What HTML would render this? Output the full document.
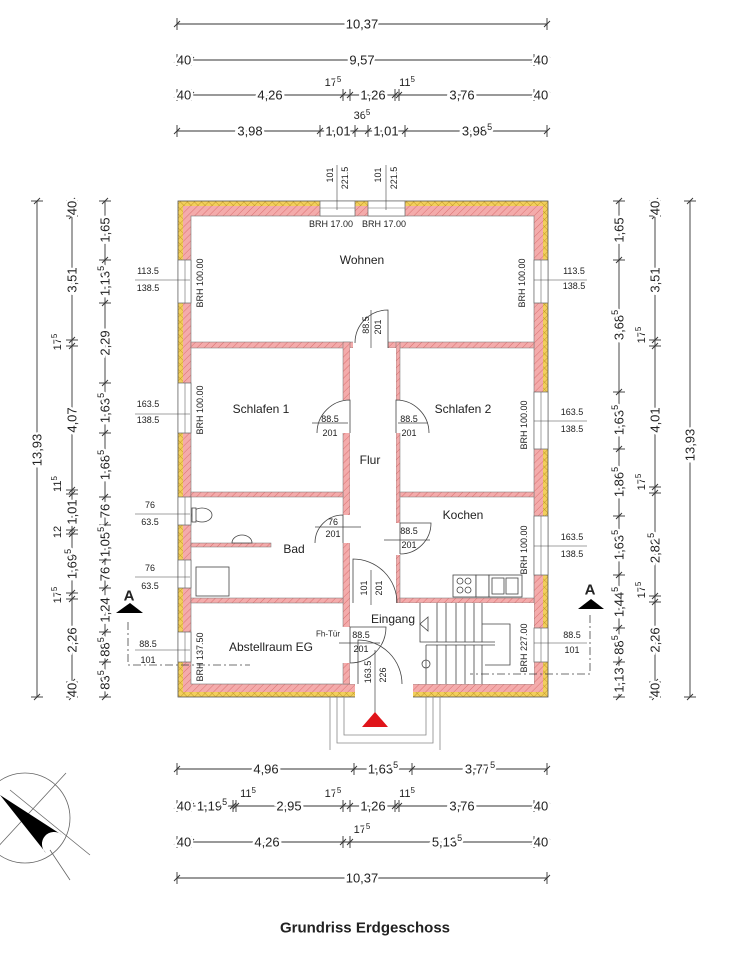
<!DOCTYPE html>
<html><head><meta charset="utf-8"><style>
html,body{margin:0;padding:0;background:#fff}
svg{display:block}
text{font-family:"Liberation Sans",sans-serif;fill:#222}
.d{font-size:13px;text-anchor:middle;dominant-baseline:central;stroke:#fff;stroke-width:5px;paint-order:stroke}
.s{font-size:11px;text-anchor:middle;dominant-baseline:central;stroke:#fff;stroke-width:4px;paint-order:stroke}
.w{font-size:9px;text-anchor:middle;dominant-baseline:central}
.r{font-size:12px;text-anchor:middle;dominant-baseline:central}
.dl line,.dl path{stroke:#333;stroke-width:0.9;fill:none}
</style></head><body>
<svg width="752" height="960" viewBox="0 0 752 960" xmlns="http://www.w3.org/2000/svg">
<defs>
<pattern id="ph" width="5" height="5" patternUnits="userSpaceOnUse" patternTransform="rotate(45)">
<rect width="5" height="5" fill="#f4abab"/><line x1="0" y1="0" x2="0" y2="5" stroke="#d66a6a" stroke-width="0.9"/></pattern>
<pattern id="py" width="5" height="5" patternUnits="userSpaceOnUse" patternTransform="rotate(45)">
<rect width="5" height="5" fill="#f2cf5c"/><line x1="0" y1="0" x2="0" y2="5" stroke="#b88c20" stroke-width="0.8"/><line x1="0" y1="0" x2="5" y2="0" stroke="#b88c20" stroke-width="0.8"/></pattern>
<g id="th" stroke="#333" stroke-width="0.9"><line x1="0" y1="-6" x2="0" y2="6"/><line x1="-3" y1="3" x2="3" y2="-3"/></g>
<g id="tv" stroke="#333" stroke-width="0.9"><line x1="-6" y1="0" x2="6" y2="0"/><line x1="-3" y1="3" x2="3" y2="-3"/></g>
</defs>

<!-- walls -->
<rect x="178" y="201" width="370" height="496" fill="url(#py)" stroke="#555" stroke-width="0.8"/>
<rect x="183" y="206" width="360" height="486" fill="url(#ph)"/>
<rect x="191" y="216" width="343" height="468" fill="#fff" stroke="#777" stroke-width="0.6"/>
<g fill="url(#ph)" stroke="#777" stroke-width="0.5">
<rect x="191" y="342" width="343" height="6"/>
<rect x="343" y="342" width="7" height="342"/>
<rect x="396" y="342" width="4" height="261"/>
<rect x="191" y="492" width="152" height="5"/>
<rect x="400" y="492" width="134" height="5"/>
<rect x="191" y="598" width="152" height="5"/>
<rect x="400" y="598" width="134" height="5"/>
<rect x="191" y="543" width="80" height="4"/>
</g>
<rect x="350" y="348" width="46" height="336" fill="#fff"/>
<rect x="350" y="603" width="184" height="81" fill="#fff"/>
<g fill="#fff">
<rect x="353" y="340" width="35" height="10"/>
<rect x="341" y="400" width="12" height="33"/>
<rect x="394" y="400" width="8" height="33"/>
<rect x="341" y="515" width="12" height="28"/>
<rect x="394" y="523" width="8" height="32"/>
<rect x="350" y="595" width="45" height="10"/>
<rect x="341" y="627" width="12" height="36"/>
<rect x="355" y="684" width="58" height="14"/>
</g>
<!-- windows -->
<g fill="#fff" stroke="#666" stroke-width="0.7">
<rect x="320" y="201" width="35" height="15"/><rect x="368" y="201" width="37" height="15"/>
<rect x="178" y="260" width="13" height="43"/><rect x="178" y="383" width="13" height="50"/>
<rect x="178" y="497" width="13" height="28"/><rect x="178" y="560" width="13" height="28"/>
<rect x="178" y="632" width="13" height="30"/>
<rect x="534" y="260" width="14" height="43"/><rect x="534" y="392" width="14" height="57"/>
<rect x="534" y="516" width="14" height="59"/><rect x="534" y="628" width="14" height="34"/>
</g>
<g stroke="#666" stroke-width="0.6">
<line x1="320" y1="208" x2="355" y2="208"/><line x1="368" y1="208" x2="405" y2="208"/>
<line x1="185" y1="260" x2="185" y2="303"/><line x1="185" y1="383" x2="185" y2="433"/><line x1="185" y1="497" x2="185" y2="525"/><line x1="185" y1="560" x2="185" y2="588"/><line x1="185" y1="632" x2="185" y2="662"/>
<line x1="541" y1="260" x2="541" y2="303"/><line x1="541" y1="392" x2="541" y2="449"/><line x1="541" y1="516" x2="541" y2="575"/><line x1="541" y1="628" x2="541" y2="662"/>
</g>
<!-- door arcs -->
<g fill="none" stroke="#444" stroke-width="0.8">
<path d="M388 348 L388 310 A33 33 0 0 0 355 343"/>
<path d="M350 433 L350 400 A33 33 0 0 0 317 433"/>
<path d="M396 433 L396 400 A33 33 0 0 1 429 433"/>
<path d="M343 543 L343 515 A28 28 0 0 0 315 543"/>
<path d="M400 554 L400 523 L431 523 A31 31 0 0 1 400 554"/>
<path d="M353 603 L353 559 A44 44 0 0 1 397 603"/>
<path d="M350 663 L350 627 L386 627 A36 36 0 0 1 350 663"/>
<path d="M358 684 L358 640 A44 44 0 0 1 402 684"/>
</g>
<g stroke="#444" stroke-width="0.7">
<line x1="371" y1="310" x2="371" y2="348"/>
<line x1="312" y1="423" x2="348" y2="423"/><line x1="398" y1="423" x2="428" y2="423"/>
<line x1="315" y1="527" x2="361" y2="527"/><line x1="384" y1="540" x2="430" y2="540"/>
<line x1="371" y1="570" x2="371" y2="605"/><line x1="339" y1="643" x2="380" y2="643"/>
<line x1="375" y1="650" x2="375" y2="715"/>
</g>
<!-- labels -->
<g>
<line x1="135" y1="280" x2="190" y2="280" stroke="#444" stroke-width="0.6"/><text class="w" x="148" y="271">113.5</text><text class="w" x="148" y="288">138.5</text>
<line x1="135" y1="414" x2="190" y2="414" stroke="#444" stroke-width="0.6"/><text class="w" x="148" y="404">163.5</text><text class="w" x="148" y="420">138.5</text>
<line x1="135" y1="514" x2="190" y2="514" stroke="#444" stroke-width="0.6"/><text class="w" x="150" y="505">76</text><text class="w" x="150" y="522">63.5</text>
<line x1="135" y1="577" x2="190" y2="577" stroke="#444" stroke-width="0.6"/><text class="w" x="150" y="568">76</text><text class="w" x="150" y="586">63.5</text>
<line x1="135" y1="650" x2="190" y2="650" stroke="#444" stroke-width="0.6"/><text class="w" x="148" y="644">88.5</text><text class="w" x="148" y="660">101</text>
<line x1="534" y1="280" x2="587" y2="280" stroke="#444" stroke-width="0.6"/><text class="w" x="574" y="271">113.5</text><text class="w" x="574" y="286">138.5</text>
<line x1="534" y1="421" x2="587" y2="421" stroke="#444" stroke-width="0.6"/><text class="w" x="572" y="412">163.5</text><text class="w" x="572" y="429">138.5</text>
<line x1="534" y1="546" x2="587" y2="546" stroke="#444" stroke-width="0.6"/><text class="w" x="572" y="537">163.5</text><text class="w" x="572" y="554">138.5</text>
<line x1="534" y1="643" x2="587" y2="643" stroke="#444" stroke-width="0.6"/><text class="w" x="572" y="635">88.5</text><text class="w" x="572" y="650">101</text>
<line x1="337" y1="165" x2="337" y2="210" stroke="#444" stroke-width="0.6"/><text class="w" transform="translate(330,175) rotate(-90)">101</text><text class="w" transform="translate(345,178) rotate(-90)">221.5</text>
<line x1="386" y1="165" x2="386" y2="210" stroke="#444" stroke-width="0.6"/><text class="w" transform="translate(378,175) rotate(-90)">101</text><text class="w" transform="translate(394,178) rotate(-90)">221.5</text>
<text class="w" x="331" y="224">BRH 17.00</text><text class="w" x="384" y="224">BRH 17.00</text>
<text class="w" transform="translate(200,283) rotate(-90)">BRH 100.00</text>
<text class="w" transform="translate(522,283) rotate(-90)">BRH 100.00</text>
<text class="w" transform="translate(200,410) rotate(-90)">BRH 100.00</text>
<text class="w" transform="translate(524,425) rotate(-90)">BRH 100.00</text>
<text class="w" transform="translate(524,550) rotate(-90)">BRH 100.00</text>
<text class="w" transform="translate(200,657) rotate(-90)">BRH 137.50</text>
<text class="w" transform="translate(524,648) rotate(-90)">BRH 227.00</text>
<text class="w" transform="translate(366,325) rotate(-90)">88.5</text><text class="w" transform="translate(378,327) rotate(-90)">201</text>
<text class="w" x="330" y="419">88.5</text><text class="w" x="330" y="433">201</text>
<text class="w" x="409" y="419">88.5</text><text class="w" x="409" y="433">201</text>
<text class="w" x="333" y="522">76</text><text class="w" x="333" y="534">201</text>
<text class="w" x="409" y="531">88.5</text><text class="w" x="409" y="545">201</text>
<text class="w" transform="translate(364,588) rotate(-90)">101</text><text class="w" transform="translate(379,588) rotate(-90)">201</text>
<text class="w" x="361" y="635">88.5</text><text class="w" x="361" y="649">201</text>
<text class="w" x="328" y="634" style="font-size:8px">Fh-Tür</text>
<text class="w" transform="translate(368,672) rotate(-90)">163.5</text><text class="w" transform="translate(383,675) rotate(-90)">226</text>
</g>
<text class="r" x="362" y="260">Wohnen</text>
<text class="r" x="261" y="409">Schlafen 1</text>
<text class="r" x="463" y="409">Schlafen 2</text>
<text class="r" x="370" y="460">Flur</text>
<text class="r" x="463" y="515">Kochen</text>
<text class="r" x="294" y="549">Bad</text>
<text class="r" x="393" y="619">Eingang</text>
<text class="r" x="271" y="647">Abstellraum EG</text>
<!-- fixtures -->
<g fill="#fff" stroke="#444" stroke-width="0.8">
<ellipse cx="202" cy="515" rx="10" ry="7"/><rect x="192" y="508" width="4" height="14"/>
<path d="M232 543 A10 8 0 0 1 252 543 Z"/>
<rect x="196" y="567" width="33" height="29"/>
<rect x="453" y="575" width="23" height="22"/><rect x="476" y="575" width="13" height="22"/><rect x="489" y="575" width="33" height="22"/>
<circle cx="460" cy="581" r="3"/><circle cx="468" cy="581" r="3"/><circle cx="460" cy="590" r="3"/><circle cx="468" cy="590" r="3"/>
<rect x="492" y="578" width="12" height="16"/><rect x="506" y="578" width="12" height="16"/>
</g>
<!-- stairs -->
<g stroke="#444" stroke-width="0.8" fill="none">
<path d="M420 603 L420 642 L495 642"/>
<path d="M426 645 L426 684"/>
<line x1="426" y1="645" x2="495" y2="645"/>
<path d="M482 624 L510 624 L510 665 L485 665"/>
<line x1="437" y1="603" x2="437" y2="642"/><line x1="446" y1="603" x2="446" y2="642"/><line x1="456" y1="603" x2="456" y2="642"/><line x1="465" y1="603" x2="465" y2="642"/><line x1="474" y1="603" x2="474" y2="642"/><line x1="482" y1="603" x2="482" y2="642"/>
<line x1="437" y1="645" x2="437" y2="684"/><line x1="446" y1="645" x2="446" y2="684"/><line x1="456" y1="645" x2="456" y2="684"/><line x1="465" y1="645" x2="465" y2="684"/><line x1="474" y1="645" x2="474" y2="684"/><line x1="482" y1="645" x2="482" y2="684"/>
<path d="M428 617 L420 624 L428 631 Z"/>
<circle cx="426" cy="664" r="4"/>
</g>
<g stroke="#888" stroke-width="0.8" fill="none">
<path d="M330 697 L330 750 M440 697 L440 750"/>
<path d="M337 697 L337 743 L433 743 L433 697"/>
<path d="M344 697 L344 735 L426 735 L426 697"/>
</g>
<polygon points="375,712 362,727 388,727" fill="#e0141a"/>
<g stroke="#444" stroke-width="0.8" stroke-dasharray="8 3 2 3" fill="none">
<path d="M128 622 L128 665 L250 665"/>
<path d="M590 615 L590 674 L470 674"/>
</g>
<polygon points="116,613 130,603 143,613" fill="#000"/>
<polygon points="578,609 591,599 604,609" fill="#000"/>
<text x="129" y="596" style="font-size:15px;font-weight:bold;text-anchor:middle;dominant-baseline:central">A</text>
<text x="590" y="590" style="font-size:15px;font-weight:bold;text-anchor:middle;dominant-baseline:central">A</text>
<g stroke="#666" stroke-width="0.8" fill="none">
<circle cx="25" cy="818" r="45"/>
<line x1="-5" y1="850" x2="66" y2="773"/>
<line x1="10" y1="790" x2="90" y2="855"/>
<line x1="50" y1="850" x2="70" y2="880"/>
</g>
<path d="M0 795 L62 835 A12 12 0 0 0 46 853 Z" fill="#000"/>

<!-- dimensions -->
<g class="dl">
<line x1="177" y1="24" x2="547" y2="24"/><use href="#th" x="177" y="24"/><use href="#th" x="547" y="24"/>
<line x1="177" y1="60" x2="547" y2="60"/><use href="#th" x="177" y="60"/><use href="#th" x="191" y="60"/><use href="#th" x="534" y="60"/><use href="#th" x="547" y="60"/>
<line x1="177" y1="95" x2="547" y2="95"/><use href="#th" x="177" y="95"/><use href="#th" x="191" y="95"/><use href="#th" x="343" y="95"/><use href="#th" x="350" y="95"/><use href="#th" x="395" y="95"/><use href="#th" x="399" y="95"/><use href="#th" x="534" y="95"/><use href="#th" x="547" y="95"/>
<line x1="177" y1="131" x2="547" y2="131"/><use href="#th" x="177" y="131"/><use href="#th" x="320" y="131"/><use href="#th" x="355" y="131"/><use href="#th" x="368" y="131"/><use href="#th" x="405" y="131"/><use href="#th" x="547" y="131"/>
<line x1="177" y1="769" x2="547" y2="769"/><use href="#th" x="177" y="769"/><use href="#th" x="354" y="769"/><use href="#th" x="412" y="769"/><use href="#th" x="547" y="769"/>
<line x1="177" y1="806" x2="547" y2="806"/><use href="#th" x="177" y="806"/><use href="#th" x="191" y="806"/><use href="#th" x="233" y="806"/><use href="#th" x="236" y="806"/><use href="#th" x="343" y="806"/><use href="#th" x="350" y="806"/><use href="#th" x="395" y="806"/><use href="#th" x="399" y="806"/><use href="#th" x="534" y="806"/><use href="#th" x="547" y="806"/>
<line x1="177" y1="842" x2="547" y2="842"/><use href="#th" x="177" y="842"/><use href="#th" x="191" y="842"/><use href="#th" x="343" y="842"/><use href="#th" x="350" y="842"/><use href="#th" x="534" y="842"/><use href="#th" x="547" y="842"/>
<line x1="177" y1="878" x2="547" y2="878"/><use href="#th" x="177" y="878"/><use href="#th" x="547" y="878"/>
<line x1="37" y1="201" x2="37" y2="697"/><use href="#tv" x="37" y="201"/><use href="#tv" x="37" y="697"/>
<line x1="72" y1="201" x2="72" y2="697"/><use href="#tv" x="72" y="201"/><use href="#tv" x="72" y="216"/><use href="#tv" x="72" y="340"/><use href="#tv" x="72" y="346"/><use href="#tv" x="72" y="490"/><use href="#tv" x="72" y="494"/><use href="#tv" x="72" y="530"/><use href="#tv" x="72" y="534"/><use href="#tv" x="72" y="593"/><use href="#tv" x="72" y="599"/><use href="#tv" x="72" y="682"/><use href="#tv" x="72" y="697"/>
<line x1="105" y1="201" x2="105" y2="697"/><use href="#tv" x="105" y="201"/><use href="#tv" x="105" y="260"/><use href="#tv" x="105" y="303"/><use href="#tv" x="105" y="383"/><use href="#tv" x="105" y="433"/><use href="#tv" x="105" y="497"/><use href="#tv" x="105" y="525"/><use href="#tv" x="105" y="560"/><use href="#tv" x="105" y="588"/><use href="#tv" x="105" y="632"/><use href="#tv" x="105" y="662"/><use href="#tv" x="105" y="697"/>
<line x1="619" y1="201" x2="619" y2="697"/><use href="#tv" x="619" y="201"/><use href="#tv" x="619" y="260"/><use href="#tv" x="619" y="392"/><use href="#tv" x="619" y="449"/><use href="#tv" x="619" y="516"/><use href="#tv" x="619" y="575"/><use href="#tv" x="619" y="628"/><use href="#tv" x="619" y="662"/><use href="#tv" x="619" y="697"/>
<line x1="655" y1="201" x2="655" y2="697"/><use href="#tv" x="655" y="201"/><use href="#tv" x="655" y="216"/><use href="#tv" x="655" y="340"/><use href="#tv" x="655" y="346"/><use href="#tv" x="655" y="487"/><use href="#tv" x="655" y="493"/><use href="#tv" x="655" y="596"/><use href="#tv" x="655" y="602"/><use href="#tv" x="655" y="682"/><use href="#tv" x="655" y="697"/>
<line x1="690" y1="201" x2="690" y2="697"/><use href="#tv" x="690" y="201"/><use href="#tv" x="690" y="697"/>
</g>
<text class="d" x="362" y="24">10,37</text>
<text class="d" x="184" y="60">40</text><text class="d" x="362" y="60">9,57</text><text class="d" x="541" y="60">40</text>
<text class="d" x="184" y="95">40</text><text class="d" x="270" y="95">4,26</text><text class="d" x="373" y="95">1,26</text><text class="d" x="462" y="95">3,76</text><text class="d" x="541" y="95">40</text>
<text class="s" x="333" y="83">17<tspan dy="-4" font-size="8">5</tspan></text><text class="s" x="407" y="83">11<tspan dy="-4" font-size="8">5</tspan></text>
<text class="d" x="250" y="131">3,98</text><text class="d" x="338" y="131">1,01</text><text class="d" x="386" y="131">1,01</text><text class="d" x="477" y="131">3,98<tspan dy="-4" font-size="9">5</tspan></text>
<text class="s" x="362" y="116">36<tspan dy="-4" font-size="8">5</tspan></text>
<text class="d" x="266" y="769">4,96</text><text class="d" x="383" y="769">1,63<tspan dy="-4" font-size="9">5</tspan></text><text class="d" x="480" y="769">3,77<tspan dy="-4" font-size="9">5</tspan></text>
<text class="d" x="184" y="806">40</text><text class="d" x="212" y="806">1,19<tspan dy="-4" font-size="9">5</tspan></text><text class="d" x="289" y="806">2,95</text><text class="d" x="373" y="806">1,26</text><text class="d" x="462" y="806">3,76</text><text class="d" x="541" y="806">40</text>
<text class="s" x="248" y="794">11<tspan dy="-4" font-size="8">5</tspan></text><text class="s" x="333" y="794">17<tspan dy="-4" font-size="8">5</tspan></text><text class="s" x="407" y="794">11<tspan dy="-4" font-size="8">5</tspan></text>
<text class="d" x="184" y="842">40</text><text class="d" x="267" y="842">4,26</text><text class="d" x="447" y="842">5,13<tspan dy="-4" font-size="9">5</tspan></text><text class="d" x="541" y="842">40</text>
<text class="s" x="362" y="830">17<tspan dy="-4" font-size="8">5</tspan></text>
<text class="d" x="362" y="878">10,37</text>
<text class="d" transform="translate(37,450) rotate(-90)">13,93</text>
<text class="d" transform="translate(72,208) rotate(-90)">40</text>
<text class="d" transform="translate(72,280) rotate(-90)">3,51</text>
<text class="d" transform="translate(72,420) rotate(-90)">4,07</text>
<text class="d" transform="translate(72,512) rotate(-90)">1,01</text>
<text class="d" transform="translate(72,564) rotate(-90)">1,69<tspan dy="-4" font-size="9">5</tspan></text>
<text class="d" transform="translate(72,640) rotate(-90)">2,26</text>
<text class="d" transform="translate(72,690) rotate(-90)">40</text>
<text class="s" transform="translate(58,342) rotate(-90)">17<tspan dy="-4" font-size="8">5</tspan></text>
<text class="s" transform="translate(58,484) rotate(-90)">11<tspan dy="-4" font-size="8">5</tspan></text>
<text class="s" transform="translate(58,532) rotate(-90)">12</text>
<text class="s" transform="translate(58,595) rotate(-90)">17<tspan dy="-4" font-size="8">5</tspan></text>
<text class="d" transform="translate(105,230) rotate(-90)">1,65</text>
<text class="d" transform="translate(105,281) rotate(-90)">1,13<tspan dy="-4" font-size="9">5</tspan></text>
<text class="d" transform="translate(105,343) rotate(-90)">2,29</text>
<text class="d" transform="translate(105,408) rotate(-90)">1,63<tspan dy="-4" font-size="9">5</tspan></text>
<text class="d" transform="translate(105,465) rotate(-90)">1,68<tspan dy="-4" font-size="9">5</tspan></text>
<text class="d" transform="translate(105,511) rotate(-90)">76</text>
<text class="d" transform="translate(105,542) rotate(-90)">1,05<tspan dy="-4" font-size="9">5</tspan></text>
<text class="d" transform="translate(105,574) rotate(-90)">76</text>
<text class="d" transform="translate(105,610) rotate(-90)">1,24</text>
<text class="d" transform="translate(105,647) rotate(-90)">88<tspan dy="-4" font-size="9">5</tspan></text>
<text class="d" transform="translate(105,680) rotate(-90)">83<tspan dy="-4" font-size="9">5</tspan></text>
<text class="d" transform="translate(619,230) rotate(-90)">1,65</text>
<text class="d" transform="translate(619,325) rotate(-90)">3,68<tspan dy="-4" font-size="9">5</tspan></text>
<text class="d" transform="translate(619,420) rotate(-90)">1,63<tspan dy="-4" font-size="9">5</tspan></text>
<text class="d" transform="translate(619,482) rotate(-90)">1,86<tspan dy="-4" font-size="9">5</tspan></text>
<text class="d" transform="translate(619,545) rotate(-90)">1,63<tspan dy="-4" font-size="9">5</tspan></text>
<text class="d" transform="translate(619,602) rotate(-90)">1,44<tspan dy="-4" font-size="9">5</tspan></text>
<text class="d" transform="translate(619,645) rotate(-90)">88<tspan dy="-4" font-size="9">5</tspan></text>
<text class="d" transform="translate(619,680) rotate(-90)">1,13</text>
<text class="d" transform="translate(655,208) rotate(-90)">40</text>
<text class="d" transform="translate(655,280) rotate(-90)">3,51</text>
<text class="d" transform="translate(655,420) rotate(-90)">4,01</text>
<text class="d" transform="translate(655,548) rotate(-90)">2,82<tspan dy="-4" font-size="9">5</tspan></text>
<text class="d" transform="translate(655,640) rotate(-90)">2,26</text>
<text class="d" transform="translate(655,690) rotate(-90)">40</text>
<text class="s" transform="translate(642,335) rotate(-90)">17<tspan dy="-4" font-size="8">5</tspan></text>
<text class="s" transform="translate(642,482) rotate(-90)">17<tspan dy="-4" font-size="8">5</tspan></text>
<text class="s" transform="translate(642,590) rotate(-90)">17<tspan dy="-4" font-size="8">5</tspan></text>
<text class="d" transform="translate(690,445) rotate(-90)">13,93</text>

<text x="365" y="928" style="font-size:15px;font-weight:bold;text-anchor:middle;dominant-baseline:central">Grundriss Erdgeschoss</text>
</svg>
</body></html>
